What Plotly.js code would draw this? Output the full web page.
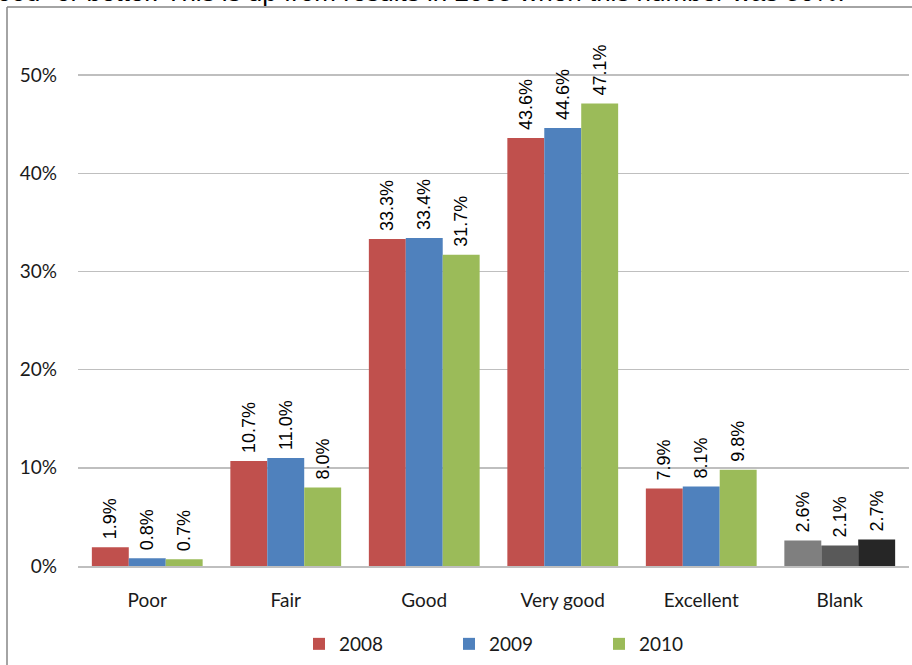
<!DOCTYPE html>
<html>
<head>
<meta charset="utf-8">
<script src="https://cdn.plot.ly/plotly-3.0.1.min.js"></script>
<style>
html,body{margin:0;padding:0;background:#fff;}
#chart{width:912px;height:665px;}
</style>
</head>
<body>
<div id="chart"></div>
<script>
const categories = ["Poor", "Fair", "Good", "Very good", "Excellent", "Blank"];
const seriesNames = ["2008", "2009", "2010"];
const values2008 = [0.019, 0.107, 0.333, 0.436, 0.079, 0.026];
const values2009 = [0.008, 0.110, 0.334, 0.446, 0.081, 0.021];
const values2010 = [0.007, 0.080, 0.317, 0.471, 0.098, 0.027];
const seriesColors = ["#C0504D", "#4F81BD", "#9BBB59"];
const blankColors = ["#7F7F7F", "#595959", "#262626"];
const headerText = "\u201CGood\u201D or better. This is up from results in 2008 when this number was 80%.";

const W = 912, H = 665;
const L = 78, R = 3, T = 26, B = 98;
const pw = W - L - R, ph = H - T - B;
const px = x => (x - L) / pw;
const py = y => (H - B - y) / ph;

const allValues = [values2008, values2009, values2010];
const traces = allValues.map((vals, i) => ({
  type: "bar",
  name: seriesNames[i],
  x: categories,
  y: vals,
  marker: {color: categories.map(c => c === "Blank" ? blankColors[i] : seriesColors[i])},
  text: vals.map(v => " " + (v * 100).toFixed(1) + "%"),
  textposition: "outside",
  textangle: -90,
  constraintext: "none",
  cliponaxis: false,
  textfont: {family: "Liberation Sans, Arial, sans-serif", size: 18, color: "#000"},
  hoverinfo: "skip"
}));

const tickFont = {family: "Lato, Carlito, sans-serif", size: 19, color: "#1a1a1a"};

const layout = {
  width: W, height: H,
  margin: {l: L, r: R, t: T, b: B, pad: 0},
  paper_bgcolor: "#fff",
  plot_bgcolor: "#fff",
  barmode: "group",
  bargap: 0.2,
  bargroupgap: 0,
  font: tickFont,
  showlegend: true,
  legend: {
    orientation: "h",
    x: px(299), xanchor: "left",
    y: py(644), yanchor: "middle",
    entrywidth: 105, entrywidthmode: "pixels",
    font: tickFont,
    itemclick: false, itemdoubleclick: false
  },
  xaxis: {
    type: "category",
    showline: true, linecolor: "#bfbfbf", linewidth: 1.5,
    showgrid: false, zeroline: false,
    ticks: "", ticklabelstandoff: 17,
    tickfont: tickFont,
    fixedrange: true
  },
  yaxis: {
    range: [0, 0.55],
    dtick: 0.1, tick0: 0,
    tickformat: ".0%",
    showgrid: true, gridcolor: "#bfbfbf", gridwidth: 1.5,
    zeroline: false, showline: false,
    ticks: "", ticklabelstandoff: 20,
    tickfont: tickFont,
    fixedrange: true
  },
  shapes: [
    {type: "line", xref: "paper", yref: "paper", x0: px(7), x1: px(7), y0: py(7), y1: py(670), line: {color: "#868686", width: 1.5}},
    {type: "line", xref: "paper", yref: "paper", x0: px(7), x1: px(915), y0: py(7), y1: py(7), line: {color: "#868686", width: 1.5}}
  ],
  annotations: [
    {text: headerText, xref: "paper", yref: "paper", x: px(847), xanchor: "right", y: py(9), yanchor: "bottom",
     showarrow: false, font: {family: "Liberation Sans, Arial, sans-serif", size: 26, color: "#000"}}
  ]
};

Plotly.newPlot("chart", traces, layout, {displayModeBar: false, staticPlot: true});
</script>
</body>
</html>
